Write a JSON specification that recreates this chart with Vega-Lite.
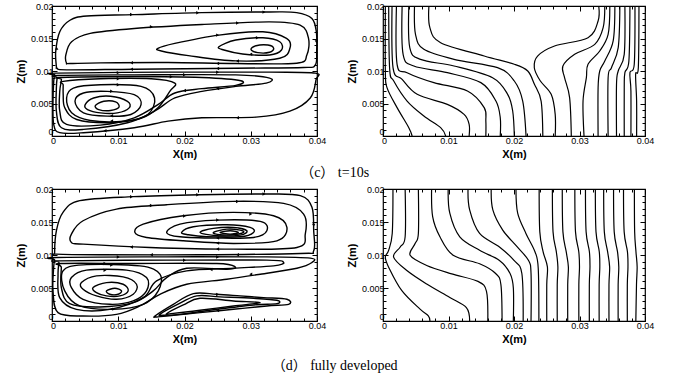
{
"$schema":"https://vega.github.io/schema/vega-lite/v6.json",
"padding":{"left":14,"top":1,"right":5,"bottom":2},
"background":"white",
"config":{
 "view":{"stroke":"black","strokeWidth":1.2},
 "axis":{"labelFont":"Liberation Sans","labelFontSize":9,"labelColor":"black","titleFont":"Liberation Sans","titleFontSize":11,"titleFontWeight":"bold","titleColor":"black","tickColor":"black","domain":false,"grid":false,"labelOverlap":false,"labelFlush":false,"labelBound":false},
 "title":{"font":"Liberation Serif, Noto Sans CJK SC","fontSize":14,"fontWeight":"normal","color":"black"}
},
"datasets":{
"cs":[
{"s":"u1","x":[0.00066,0.00056,0.00117,0.00271,0.00526,0.01241,0.02263,0.03285,0.03694,0.03923,0.0399,0.03995,0.03974,0.03796,0.02774,0.01241,0.0022,0.00077],"z":[0.01069,0.01298,0.01603,0.01781,0.01847,0.01868,0.01898,0.01908,0.01898,0.01807,0.01603,0.01298,0.01094,0.01053,0.01043,0.01028,0.01018,0.01043]},
{"s":"u2","x":[0.0022,0.00209,0.00296,0.00577,0.01241,0.02263,0.03285,0.03745,0.03872,0.03847,0.03694,0.02774,0.01752,0.00731,0.00271],"z":[0.0112,0.01247,0.0145,0.01578,0.01654,0.01715,0.01756,0.01705,0.01501,0.01247,0.0112,0.01115,0.0113,0.01125,0.01115]},
{"s":"u3","x":[0.01599,0.01854,0.02519,0.03183,0.0354,0.03591,0.03438,0.02774,0.02059,0.0165],"z":[0.01349,0.01425,0.01552,0.01603,0.01501,0.01349,0.01196,0.01155,0.01237,0.01308]},
{"s":"u4","x":[0.02519,0.02774,0.03183,0.03438,0.03464,0.03285,0.02876,0.02595],"z":[0.01374,0.01476,0.01511,0.0145,0.01323,0.01247,0.01262,0.01323]},
{"s":"u5","x":[0.03004,0.0308,0.03259,0.03346,0.03285,0.03106],"z":[0.01333,0.01389,0.01399,0.01349,0.01288,0.01282]},
{"s":"l1","x":[0.00066,0.01752,0.03285,0.03974,0.03985,0.03898,0.03591,0.0308,0.02263,0.01752,0.01241,0.00475,0.00117,0.00026,0.00015,0.00026,0.00041],"z":[0.00967,0.00982,0.00982,0.00967,0.00865,0.00585,0.00382,0.0029,0.0028,0.00229,0.00127,0.00051,0.00051,0.00178,0.00534,0.0084,0.00941]},
{"s":"l2","x":[0.00092,0.01241,0.02774,0.03285,0.03234,0.02774,0.02263,0.01854,0.01548,0.01139,0.00475,0.00143,0.00066,0.00066,0.00077],"z":[0.00931,0.00941,0.00941,0.00891,0.00814,0.00763,0.00687,0.00585,0.00382,0.00204,0.00102,0.00127,0.00382,0.00738,0.00891]},
{"s":"l3","x":[0.00143,0.01241,0.02263,0.02851,0.02774,0.02263,0.01854,0.01599,0.01241,0.00731,0.0022,0.00117,0.00117,0.00143],"z":[0.00901,0.00916,0.00901,0.0085,0.00779,0.00728,0.00662,0.00483,0.0028,0.00168,0.00178,0.00382,0.00687,0.00865]},
{"s":"l4","x":[0.00169,0.00731,0.01497,0.01854,0.01778,0.01599,0.01344,0.00884,0.00373,0.00194,0.00169,0.00169],"z":[0.0084,0.0088,0.0088,0.00814,0.00687,0.00433,0.0027,0.00204,0.00254,0.00433,0.00636,0.00789]},
{"s":"r1","x":[0.0022,0.00322,0.00731,0.01344,0.01548,0.01446,0.01088,0.00577,0.00296],"z":[0.00585,0.00738,0.00789,0.00763,0.00585,0.00331,0.00229,0.00239,0.00356]},
{"s":"r2","x":[0.00347,0.00475,0.00833,0.01241,0.01344,0.0119,0.00833,0.00475],"z":[0.00534,0.00662,0.00687,0.00636,0.00483,0.00331,0.00305,0.00356]},
{"s":"r3","x":[0.00501,0.00628,0.00884,0.01139,0.01165,0.00986,0.00731,0.00536],"z":[0.00483,0.00585,0.00611,0.00534,0.00433,0.00356,0.00356,0.00407]},
{"s":"r4","x":[0.00654,0.00782,0.0096,0.01011,0.00884,0.00705],"z":[0.00468,0.00534,0.00524,0.00443,0.00392,0.00407]}
],
"ca":[
{"x":0.012,"z":0.01868,"a":0},{"x":0.022,"z":0.01896,"a":0},{"x":0.032,"z":0.01906,"a":0},{"x":0.0399,"z":0.0145,"a":90},{"x":0.025,"z":0.01038,"a":180},{"x":0.012,"z":0.01028,"a":180},{"x":0.0007,"z":0.0135,"a":270},
{"x":0.015,"z":0.0168,"a":0},{"x":0.028,"z":0.0174,"a":0},{"x":0.025,"z":0.01117,"a":180},{"x":0.012,"z":0.01127,"a":180},
{"x":0.025,"z":0.01552,"a":0},{"x":0.028,"z":0.01153,"a":180},{"x":0.031,"z":0.0151,"a":0},{"x":0.030,"z":0.01257,"a":180},
{"x":0.01,"z":0.00975,"a":0},{"x":0.025,"z":0.00982,"a":0},{"x":0.028,"z":0.0028,"a":180},{"x":0.008,"z":0.0008,"a":180},
{"x":0.02,"z":0.00941,"a":0},{"x":0.025,"z":0.0073,"a":180},{"x":0.018,"z":0.0091,"a":0},{"x":0.02,"z":0.007,"a":180},
{"x":0.01,"z":0.0088,"a":0},{"x":0.01,"z":0.0079,"a":0},{"x":0.009,"z":0.0023,"a":180},{"x":0.009,"z":0.0069,"a":0},{"x":0.009,"z":0.0031,"a":180}
],
"ci":[
{"s":"A1","x":[0.00036,0.00036,0.00061,0.00215,0.00394,0.00445],"z":[0.02,0.01,0.00744,0.00436,0.00128,0]},
{"s":"A2","x":[0.00087,0.00102,0.00164,0.00368,0.00624,0.0088,0.00957],"z":[0.02,0.01026,0.00846,0.00538,0.00308,0.00128,0]},
{"s":"A3","x":[0.00138,0.00153,0.00292,0.00522,0.00982,0.01238,0.01315,0.01315],"z":[0.02,0.01051,0.00872,0.00641,0.00487,0.00333,0.00179,0]},
{"s":"A4","x":[0.00205,0.00215,0.00368,0.00777,0.01289,0.01545,0.0157,0.0157],"z":[0.02,0.01103,0.00974,0.00821,0.00692,0.00436,0.00231,0]},
{"s":"A5","x":[0.00292,0.00307,0.00471,0.00982,0.01494,0.01724,0.0179,0.0179],"z":[0.02,0.01256,0.01077,0.00974,0.00821,0.00538,0.00282,0]},
{"s":"A6","x":[0.00394,0.00409,0.00573,0.01084,0.01673,0.01903,0.0198,0.02005],"z":[0.02,0.01359,0.01179,0.01077,0.00897,0.00641,0.00385,0]},
{"s":"A7","x":[0.00481,0.00496,0.00624,0.01084,0.01749,0.02005,0.02133,0.02184],"z":[0.02,0.01564,0.01333,0.01179,0.01051,0.00846,0.00538,0]},
{"s":"A8","x":[0.00701,0.00716,0.0088,0.01545,0.02005,0.0221,0.02312,0.02414,0.0244],"z":[0.02,0.01667,0.01436,0.01231,0.01103,0.01,0.00795,0.00538,0]},
{"s":"B1","x":[0.03294,0.03284,0.0313,0.02619,0.0236,0.0231,0.024,0.02568,0.02629,0.02629],"z":[0.02,0.01769,0.01513,0.01385,0.0123,0.0105,0.0085,0.00641,0.00333,0]},
{"s":"B2","x":[0.03386,0.03361,0.03233,0.02926,0.02747,0.02772,0.02849,0.02875],"z":[0.02,0.01667,0.0141,0.01256,0.01077,0.00897,0.0059,0]},
{"s":"B3","x":[0.03463,0.03437,0.03309,0.0313,0.03105,0.03054,0.03069],"z":[0.02,0.01564,0.01308,0.01103,0.00897,0.00538,0]},
{"s":"B4","x":[0.0354,0.03514,0.03386,0.03309,0.03284,0.03284],"z":[0.02,0.01462,0.01154,0.01,0.00744,0]},
{"s":"B5","x":[0.03616,0.03591,0.03488,0.03437,0.03437],"z":[0.02,0.01359,0.01051,0.00897,0]},
{"s":"B6","x":[0.03693,0.03683,0.03591,0.03565,0.03565],"z":[0.02,0.01256,0.01,0.00795,0]},
{"s":"B7","x":[0.0377,0.03754,0.03693,0.03683,0.03683],"z":[0.02,0.01154,0.00974,0.00744,0]},
{"s":"B8","x":[0.03847,0.03836,0.0377,0.03785,0.03785],"z":[0.02,0.01103,0.00974,0.00692,0]},
{"s":"B9","x":[0.03908,0.03898,0.03857,0.03872,0.03872],"z":[0.02,0.01051,0.00949,0.00538,0]}
],
"ds":[
{"s":"v1","x":[0.0004,0.00066,0.00166,0.00419,0.01226,0.02235,0.03243,0.03748,0.03924,0.0395,0.0395,0.03748,0.02235,0.00721,0.00066],"z":[0.01038,0.01367,0.01646,0.01823,0.01884,0.01914,0.01924,0.01899,0.01722,0.01367,0.01063,0.01023,0.01003,0.01003,0.01013]},
{"s":"v2","x":[0.00293,0.00293,0.00469,0.00974,0.0173,0.02739,0.03496,0.03798,0.03823,0.03697,0.02739,0.01478,0.00469],"z":[0.0119,0.01316,0.01519,0.01696,0.01762,0.01813,0.01782,0.0162,0.01316,0.01114,0.01089,0.01114,0.01165]},
{"s":"v3","x":[0.01251,0.01377,0.01982,0.02739,0.03344,0.03546,0.03395,0.02739,0.01982,0.01427],"z":[0.01342,0.01468,0.01595,0.01646,0.01595,0.01418,0.01215,0.01175,0.01215,0.01266]},
{"s":"v4","x":[0.0173,0.01932,0.02487,0.03143,0.03243,0.03042,0.02487,0.01932],"z":[0.01342,0.01468,0.01529,0.01509,0.01367,0.01266,0.01256,0.01276]},
{"s":"v5","x":[0.01957,0.02134,0.02638,0.02991,0.03042,0.0284,0.02336,0.02058],"z":[0.01342,0.01428,0.01458,0.01418,0.01342,0.01276,0.01276,0.01306]},
{"s":"v6","x":[0.02235,0.02436,0.02739,0.02941,0.0284,0.02487],"z":[0.01342,0.01403,0.01418,0.01367,0.01301,0.01291]},
{"s":"v7","x":[0.02436,0.02638,0.0284,0.0289,0.02739,0.02537],"z":[0.01342,0.01392,0.01377,0.01342,0.01306,0.01306]},
{"s":"v8","x":[0.02537,0.02689,0.02815,0.02689],"z":[0.01342,0.01367,0.01342,0.01316]},
{"s":"w1","x":[0.00066,0.0173,0.03243,0.03899,0.03924,0.03697,0.03143,0.02638,0.02033,0.01629,0.01327,0.00974,0.00469,0.00091,0.00015,0.00025,0.0004],"z":[0.00962,0.00972,0.00972,0.00952,0.00886,0.008,0.00709,0.00633,0.00557,0.00405,0.00228,0.00101,0.00076,0.00127,0.00456,0.0081,0.00922]},
{"s":"w2","x":[0.00116,0.0173,0.03243,0.03496,0.03344,0.02739,0.02033,0.01579,0.01377,0.00873,0.00368,0.00116,0.00091,0.00106],"z":[0.00911,0.00922,0.00922,0.00886,0.00835,0.008,0.00759,0.00608,0.00354,0.00177,0.00177,0.00354,0.00709,0.00886]},
{"s":"w3","x":[0.00141,0.01226,0.02487,0.02764,0.02638,0.02033,0.0173,0.01528,0.01226,0.00721,0.00267,0.00141,0.00141],"z":[0.00871,0.00871,0.00871,0.0082,0.00785,0.008,0.00658,0.00456,0.00278,0.00213,0.00263,0.00506,0.0081]},
{"s":"q1","x":[0.00166,0.00469,0.01327,0.01629,0.01604,0.01377,0.00923,0.00419,0.00192],"z":[0.00759,0.00851,0.00835,0.00709,0.00456,0.00253,0.00177,0.00228,0.00456]},
{"s":"q2","x":[0.00293,0.0052,0.01125,0.01427,0.01427,0.01226,0.00873,0.00469,0.00293],"z":[0.00658,0.0077,0.0077,0.00658,0.00456,0.00304,0.00253,0.00329,0.00506]},
{"s":"q3","x":[0.00444,0.00671,0.01074,0.01276,0.01226,0.00974,0.00671,0.00469],"z":[0.00582,0.00684,0.00668,0.00557,0.00405,0.00329,0.0038,0.00481]},
{"s":"q4","x":[0.0062,0.00822,0.01074,0.0115,0.01024,0.00822,0.00671],"z":[0.00506,0.00582,0.00557,0.00456,0.0038,0.0038,0.0043]},
{"s":"q5","x":[0.00822,0.00948,0.01049,0.00999,0.00873],"z":[0.00456,0.00496,0.00456,0.00405,0.00405]},
{"s":"s1","x":[0.01554,0.01831,0.02134,0.02487,0.0284,0.03193,0.03546,0.03571,0.03243,0.02739,0.02235,0.0173,0.01579],"z":[0.00076,0.00253,0.00415,0.00405,0.0038,0.00354,0.00329,0.00253,0.00228,0.00177,0.00127,0.00076,0.00061]},
{"s":"s2","x":[0.01629,0.01881,0.02184,0.02537,0.03042,0.03395,0.03395,0.03042,0.02487,0.01932,0.0168],"z":[0.00101,0.00243,0.0038,0.00365,0.00344,0.00314,0.00263,0.00243,0.00177,0.00101,0.00086]},
{"s":"s3","x":[0.0173,0.01982,0.02235,0.02739,0.03143,0.02739,0.02235,0.01831],"z":[0.00111,0.00243,0.00344,0.00304,0.00278,0.00228,0.00162,0.00116]}
],
"da":[
{"x":0.012,"z":0.01884,"a":0},{"x":0.022,"z":0.01914,"a":0},{"x":0.032,"z":0.01924,"a":0},{"x":0.0395,"z":0.0145,"a":90},{"x":0.028,"z":0.01003,"a":180},{"x":0.015,"z":0.01003,"a":180},
{"x":0.015,"z":0.0175,"a":0},{"x":0.028,"z":0.0181,"a":0},{"x":0.025,"z":0.0109,"a":180},{"x":0.012,"z":0.0112,"a":180},
{"x":0.02,"z":0.0159,"a":0},{"x":0.03,"z":0.0162,"a":0},{"x":0.025,"z":0.0118,"a":180},{"x":0.025,"z":0.0153,"a":0},{"x":0.025,"z":0.01256,"a":180},
{"x":0.01,"z":0.0097,"a":0},{"x":0.025,"z":0.0097,"a":0},{"x":0.03,"z":0.0071,"a":180},{"x":0.02,"z":0.0092,"a":0},{"x":0.024,"z":0.0078,"a":180},
{"x":0.008,"z":0.0087,"a":0},{"x":0.009,"z":0.0085,"a":0},{"x":0.009,"z":0.0018,"a":180},{"x":0.008,"z":0.0077,"a":0},
{"x":0.025,"z":0.0040,"a":0},{"x":0.025,"z":0.0016,"a":180}
],
"di":[
{"s":"D1","x":[0.00152,0.00141,0.00086,0.00035,0.00086,0.00288,0.00566,0.00692,0.00717],"z":[0.02,0.01327,0.01071,0.00969,0.00816,0.00459,0.00179,0.00077,0]},
{"s":"D2","x":[0.00338,0.00338,0.00263,0.00162,0.00364,0.00667,0.0102,0.01273,0.01323],"z":[0.02,0.01276,0.01122,0.00969,0.00765,0.00561,0.00357,0.00204,0]},
{"s":"D3","x":[0.0054,0.0054,0.0049,0.00414,0.00667,0.0105,0.0145,0.0158,0.016],"z":[0.02,0.01327,0.01173,0.00995,0.00842,0.00714,0.006,0.0045,0]},
{"s":"D4","x":[0.00742,0.00758,0.00869,0.01071,0.01475,0.0172,0.018,0.01818],"z":[0.02,0.01582,0.01276,0.00995,0.00867,0.0072,0.0055,0]},
{"s":"D5","x":[0.00995,0.0102,0.01172,0.01475,0.01778,0.0194,0.0199,0.0199],"z":[0.02,0.01633,0.01276,0.01071,0.00918,0.0072,0.005,0]},
{"s":"D6","x":[0.01298,0.01323,0.01475,0.01778,0.02,0.0212,0.0214],"z":[0.02,0.01684,0.01327,0.01122,0.00918,0.0072,0]},
{"s":"D7","x":[0.01652,0.01677,0.01828,0.0205,0.0222,0.0226,0.0226],"z":[0.02,0.01684,0.01378,0.01122,0.0092,0.0072,0]},
{"s":"D8","x":[0.0203,0.02056,0.02182,0.0232,0.0237,0.0238],"z":[0.02,0.01633,0.01327,0.0105,0.008,0]},
{"s":"R1","x":[0.02384,0.02394,0.02444,0.0251,0.025,0.025],"z":[0.02,0.0135,0.0105,0.0082,0.0055,0]},
{"s":"R2","x":[0.02586,0.02596,0.02646,0.0267,0.0266,0.0266],"z":[0.02,0.0135,0.0105,0.0082,0.0055,0]},
{"s":"R3","x":[0.02737,0.02747,0.02797,0.0283,0.0282,0.0282],"z":[0.02,0.0135,0.0105,0.0082,0.0055,0]},
{"s":"R4","x":[0.02929,0.02939,0.02989,0.03,0.0299,0.0299],"z":[0.02,0.0135,0.0105,0.0082,0.0055,0]},
{"s":"R5","x":[0.03091,0.03101,0.03151,0.0316,0.0315,0.0315],"z":[0.02,0.0135,0.0105,0.0082,0.0055,0]},
{"s":"R6","x":[0.03242,0.03252,0.03302,0.0331,0.033,0.033],"z":[0.02,0.0135,0.0105,0.0082,0.0055,0]},
{"s":"R7","x":[0.03369,0.03379,0.03429,0.0346,0.0345,0.0345],"z":[0.02,0.0135,0.0105,0.0082,0.0055,0]},
{"s":"R8","x":[0.0352,0.0353,0.0358,0.036,0.0359,0.0359],"z":[0.02,0.0135,0.0105,0.0082,0.0055,0]},
{"s":"R9","x":[0.03672,0.03682,0.03732,0.0374,0.0373,0.0373],"z":[0.02,0.0135,0.0105,0.0082,0.0055,0]},
{"s":"R10","x":[0.03838,0.03842,0.03862,0.0388,0.0387,0.0386],"z":[0.02,0.0135,0.0105,0.0082,0.0055,0]}
]
},
"vconcat":[
{"hconcat":[
 {"width":265,"height":130,"data":{"name":"cs"},"transform":[{"flatten":["x","z"]}],
  "layer":[
   {"mark":{"type":"line","interpolate":"cardinal-closed","color":"black","strokeWidth":1.4},
    "encoding":{
     "x":{"field":"x","type":"quantitative","scale":{"domain":[0,0.04],"nice":false},"axis":{"orient":"bottom","values":[0,0.002,0.004,0.006,0.008,0.01,0.012,0.014,0.016,0.018,0.02,0.022,0.024,0.026,0.028,0.03,0.032,0.034,0.036,0.038,0.04],"labelExpr":"round(datum.value*1000)%10==0 ? format(datum.value,'.2~f') : ''","labelOffset":{"condition":{"test":"datum.value==0","value":1},"value":0},"tickSize":{"condition":{"test":"round(datum.value*1000)%10==0","value":-5},"value":-3},"title":"X(m)","labelPadding":5,"titlePadding":1}},
     "y":{"field":"z","type":"quantitative","scale":{"domain":[0,0.02],"nice":false},"axis":{"orient":"left","values":[0,0.001,0.002,0.003,0.004,0.005,0.006,0.007,0.008,0.009,0.01,0.011,0.012,0.013,0.014,0.015,0.016,0.017,0.018,0.019,0.02],"labelExpr":"round(datum.value*1000)%5==0 ? format(datum.value,'.3~f') : ''","labelOffset":{"condition":{"test":"datum.value==0","value":-5},"value":0},"tickSize":{"condition":{"test":"round(datum.value*1000)%5==0","value":-5},"value":-3},"title":"Z(m)","labelPadding":4,"titlePadding":4}},
     "detail":{"field":"s"},"order":{"value":null}}},
   {"transform":[{"filter":"false"}],"mark":{"type":"line","color":"black"},
    "encoding":{
     "x":{"field":"x","type":"quantitative","axis":{"orient":"top","values":[0,0.002,0.004,0.006,0.008,0.01,0.012,0.014,0.016,0.018,0.02,0.022,0.024,0.026,0.028,0.03,0.032,0.034,0.036,0.038,0.04],"labels":false,"title":null,"tickSize":{"condition":{"test":"round(datum.value*1000)%10==0","value":-5},"value":-3}}},
     "y":{"field":"z","type":"quantitative","axis":{"orient":"right","values":[0,0.001,0.002,0.003,0.004,0.005,0.006,0.007,0.008,0.009,0.01,0.011,0.012,0.013,0.014,0.015,0.016,0.017,0.018,0.019,0.02],"labels":false,"title":null,"tickSize":{"condition":{"test":"round(datum.value*1000)%5==0","value":-5},"value":-3}}},
     "detail":{"field":"s"}}},
   {"data":{"name":"ca"},"mark":{"type":"point","shape":"triangle-right","filled":true,"color":"black","size":12,"opacity":1},
    "encoding":{"x":{"field":"x","type":"quantitative","axis":null},"y":{"field":"z","type":"quantitative","axis":null},"angle":{"field":"a","type":"quantitative","scale":null}}}
  ],
  "resolve":{"axis":{"x":"independent","y":"independent"}}},
 {"width":262,"height":130,"data":{"name":"ci"},"transform":[{"flatten":["x","z"]}],
  "layer":[
   {"mark":{"type":"line","interpolate":"cardinal","color":"black","strokeWidth":1.2},
    "encoding":{
     "x":{"field":"x","type":"quantitative","scale":{"domain":[0,0.04],"nice":false},"axis":{"orient":"bottom","values":[0,0.002,0.004,0.006,0.008,0.01,0.012,0.014,0.016,0.018,0.02,0.022,0.024,0.026,0.028,0.03,0.032,0.034,0.036,0.038,0.04],"labelExpr":"round(datum.value*1000)%10==0 ? format(datum.value,'.2~f') : ''","labelOffset":{"condition":{"test":"datum.value==0","value":1},"value":0},"tickSize":{"condition":{"test":"round(datum.value*1000)%10==0","value":-5},"value":-3},"title":"X(m)","labelPadding":5,"titlePadding":1}},
     "y":{"field":"z","type":"quantitative","scale":{"domain":[0,0.02],"nice":false},"axis":{"orient":"left","values":[0,0.001,0.002,0.003,0.004,0.005,0.006,0.007,0.008,0.009,0.01,0.011,0.012,0.013,0.014,0.015,0.016,0.017,0.018,0.019,0.02],"labelExpr":"round(datum.value*1000)%5==0 ? format(datum.value,'.3~f') : ''","labelOffset":{"condition":{"test":"datum.value==0","value":-5},"value":0},"tickSize":{"condition":{"test":"round(datum.value*1000)%5==0","value":-5},"value":-3},"title":"Z(m)","labelPadding":4,"titlePadding":4}},
     "detail":{"field":"s"},"order":{"value":null}}},
   {"transform":[{"filter":"false"}],"mark":{"type":"line","color":"black"},
    "encoding":{
     "x":{"field":"x","type":"quantitative","axis":{"orient":"top","values":[0,0.002,0.004,0.006,0.008,0.01,0.012,0.014,0.016,0.018,0.02,0.022,0.024,0.026,0.028,0.03,0.032,0.034,0.036,0.038,0.04],"labels":false,"title":null,"tickSize":{"condition":{"test":"round(datum.value*1000)%10==0","value":-5},"value":-3}}},
     "y":{"field":"z","type":"quantitative","axis":{"orient":"right","values":[0,0.001,0.002,0.003,0.004,0.005,0.006,0.007,0.008,0.009,0.01,0.011,0.012,0.013,0.014,0.015,0.016,0.017,0.018,0.019,0.02],"labels":false,"title":null,"tickSize":{"condition":{"test":"round(datum.value*1000)%5==0","value":-5},"value":-3}}},
     "detail":{"field":"s"}}}
  ],
  "resolve":{"axis":{"x":"independent","y":"independent"}}}
 ],
 "spacing":66,"bounds":"flush",
 "title":{"text":"（c） t=10s","orient":"bottom","anchor":"middle","offset":6}},
{"hconcat":[
 {"width":265,"height":132,"data":{"name":"ds"},"transform":[{"flatten":["x","z"]}],
  "layer":[
   {"mark":{"type":"line","interpolate":"cardinal-closed","color":"black","strokeWidth":1.4},
    "encoding":{
     "x":{"field":"x","type":"quantitative","scale":{"domain":[0,0.04],"nice":false},"axis":{"orient":"bottom","values":[0,0.002,0.004,0.006,0.008,0.01,0.012,0.014,0.016,0.018,0.02,0.022,0.024,0.026,0.028,0.03,0.032,0.034,0.036,0.038,0.04],"labelExpr":"round(datum.value*1000)%10==0 ? format(datum.value,'.2~f') : ''","labelOffset":{"condition":{"test":"datum.value==0","value":1},"value":0},"tickSize":{"condition":{"test":"round(datum.value*1000)%10==0","value":-5},"value":-3},"title":"X(m)","labelPadding":5,"titlePadding":1}},
     "y":{"field":"z","type":"quantitative","scale":{"domain":[0,0.02],"nice":false},"axis":{"orient":"left","values":[0,0.001,0.002,0.003,0.004,0.005,0.006,0.007,0.008,0.009,0.01,0.011,0.012,0.013,0.014,0.015,0.016,0.017,0.018,0.019,0.02],"labelExpr":"round(datum.value*1000)%5==0 ? format(datum.value,'.3~f') : ''","labelOffset":{"condition":{"test":"datum.value==0","value":-5},"value":0},"tickSize":{"condition":{"test":"round(datum.value*1000)%5==0","value":-5},"value":-3},"title":"Z(m)","labelPadding":4,"titlePadding":4}},
     "detail":{"field":"s"},"order":{"value":null}}},
   {"transform":[{"filter":"false"}],"mark":{"type":"line","color":"black"},
    "encoding":{
     "x":{"field":"x","type":"quantitative","axis":{"orient":"top","values":[0,0.002,0.004,0.006,0.008,0.01,0.012,0.014,0.016,0.018,0.02,0.022,0.024,0.026,0.028,0.03,0.032,0.034,0.036,0.038,0.04],"labels":false,"title":null,"tickSize":{"condition":{"test":"round(datum.value*1000)%10==0","value":-5},"value":-3}}},
     "y":{"field":"z","type":"quantitative","axis":{"orient":"right","values":[0,0.001,0.002,0.003,0.004,0.005,0.006,0.007,0.008,0.009,0.01,0.011,0.012,0.013,0.014,0.015,0.016,0.017,0.018,0.019,0.02],"labels":false,"title":null,"tickSize":{"condition":{"test":"round(datum.value*1000)%5==0","value":-5},"value":-3}}},
     "detail":{"field":"s"}}},
   {"data":{"name":"da"},"mark":{"type":"point","shape":"triangle-right","filled":true,"color":"black","size":12,"opacity":1},
    "encoding":{"x":{"field":"x","type":"quantitative","axis":null},"y":{"field":"z","type":"quantitative","axis":null},"angle":{"field":"a","type":"quantitative","scale":null}}}
  ],
  "resolve":{"axis":{"x":"independent","y":"independent"}}},
 {"width":262,"height":132,"data":{"name":"di"},"transform":[{"flatten":["x","z"]}],
  "layer":[
   {"mark":{"type":"line","interpolate":"cardinal","color":"black","strokeWidth":1.2},
    "encoding":{
     "x":{"field":"x","type":"quantitative","scale":{"domain":[0,0.04],"nice":false},"axis":{"orient":"bottom","values":[0,0.002,0.004,0.006,0.008,0.01,0.012,0.014,0.016,0.018,0.02,0.022,0.024,0.026,0.028,0.03,0.032,0.034,0.036,0.038,0.04],"labelExpr":"round(datum.value*1000)%10==0 ? format(datum.value,'.2~f') : ''","labelOffset":{"condition":{"test":"datum.value==0","value":1},"value":0},"tickSize":{"condition":{"test":"round(datum.value*1000)%10==0","value":-5},"value":-3},"title":"X(m)","labelPadding":5,"titlePadding":1}},
     "y":{"field":"z","type":"quantitative","scale":{"domain":[0,0.02],"nice":false},"axis":{"orient":"left","values":[0,0.001,0.002,0.003,0.004,0.005,0.006,0.007,0.008,0.009,0.01,0.011,0.012,0.013,0.014,0.015,0.016,0.017,0.018,0.019,0.02],"labelExpr":"round(datum.value*1000)%5==0 ? format(datum.value,'.3~f') : ''","labelOffset":{"condition":{"test":"datum.value==0","value":-5},"value":0},"tickSize":{"condition":{"test":"round(datum.value*1000)%5==0","value":-5},"value":-3},"title":"Z(m)","labelPadding":4,"titlePadding":4}},
     "detail":{"field":"s"},"order":{"value":null}}},
   {"transform":[{"filter":"false"}],"mark":{"type":"line","color":"black"},
    "encoding":{
     "x":{"field":"x","type":"quantitative","axis":{"orient":"top","values":[0,0.002,0.004,0.006,0.008,0.01,0.012,0.014,0.016,0.018,0.02,0.022,0.024,0.026,0.028,0.03,0.032,0.034,0.036,0.038,0.04],"labels":false,"title":null,"tickSize":{"condition":{"test":"round(datum.value*1000)%10==0","value":-5},"value":-3}}},
     "y":{"field":"z","type":"quantitative","axis":{"orient":"right","values":[0,0.001,0.002,0.003,0.004,0.005,0.006,0.007,0.008,0.009,0.01,0.011,0.012,0.013,0.014,0.015,0.016,0.017,0.018,0.019,0.02],"labels":false,"title":null,"tickSize":{"condition":{"test":"round(datum.value*1000)%5==0","value":-5},"value":-3}}},
     "detail":{"field":"s"}}}
  ],
  "resolve":{"axis":{"x":"independent","y":"independent"}}}
 ],
 "spacing":66,"bounds":"flush",
 "title":{"text":"（d） fully developed","orient":"bottom","anchor":"middle","offset":14}}
],
"spacing":4
}
